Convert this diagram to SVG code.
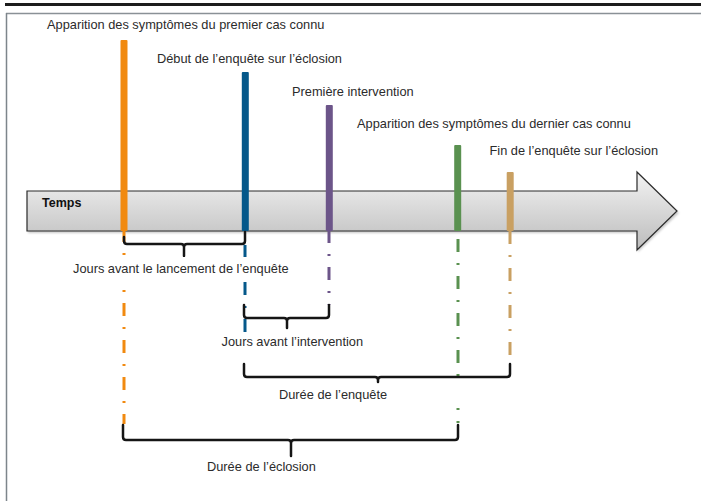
<svg xmlns="http://www.w3.org/2000/svg" width="701" height="501" viewBox="0 0 701 501">
  <defs>
    <linearGradient id="axisGrad" gradientUnits="userSpaceOnUse" x1="0" y1="172" x2="0" y2="250">
      <stop offset="0" stop-color="#f3f3f3"/>
      <stop offset="1" stop-color="#bcbcbc"/>
    </linearGradient>
    <filter id="shadow" x="-5%" y="-20%" width="110%" height="150%">
      <feGaussianBlur stdDeviation="1.2"/>
    </filter>
  </defs>
  <style>
    text { font-family: "Liberation Sans", Arial, sans-serif; font-size: 12.8px; fill: #2b2b2b; }
    .bold { font-weight: bold; fill: #111; font-size: 12.5px; }
    .dd { fill: none; stroke-width: 3; stroke-dasharray: 13 11 2 11; }
    .brace { fill: none; stroke: #151515; stroke-width: 2.5; stroke-linejoin: round; stroke-linecap: round; }
    .orange { fill: #f18a10; stroke: #f18a10; }
    .blue { fill: #05588a; stroke: #05588a; }
    .purple { fill: #6c5589; stroke: #6c5589; }
    .green { fill: #5a9150; stroke: #5a9150; }
    .tan { fill: #c9a062; stroke: #c9a062; }
    .bar { stroke: none; }
  </style>

  <rect x="0" y="0" width="701" height="501" fill="#ffffff"/>

  <!-- frame -->
  <g id="frame">
    <line x1="5" y1="4.5" x2="701" y2="4.5" stroke="#1c1c1c" stroke-width="3"/>
    <line x1="6" y1="13.5" x2="701" y2="13.5" stroke="#8a9196" stroke-width="1.5"/>
    <line x1="6.5" y1="13" x2="6.5" y2="501" stroke="#7d858b" stroke-width="1.5"/>
  </g>

  <!-- time axis -->
  <g id="axis">
    <polygon points="28,193 638,193 638,174 679,213 638,252 638,233 28,233" fill="#888" opacity="0.45" filter="url(#shadow)"/>
    <polygon points="27,191 637,191 637,172 677,211 637,250 637,231 27,231" fill="url(#axisGrad)" stroke="#2a2a2a" stroke-width="1.2"/>
    <text class="bold" x="42" y="207">Temps</text>
  </g>

  <!-- dash-dot guide lines -->
  <g id="guides">
    <path class="dd orange" d="M124,229 V424"/>
    <path class="dd blue" d="M245,245 V332"/>
    <path class="dd purple" d="M329,230 V305"/>
    <path class="dd green" d="M458,239 V377"/>
    <path class="green" stroke-width="3" d="M458,408 V410 M458,421 V423"/>
    <path class="dd tan" d="M510,231 V364"/>
  </g>

  <!-- events -->
  <g id="event-premier-cas">
    <rect class="bar orange" x="120.5" y="40" width="7" height="191" rx="1"/>
    <text x="47" y="29">Apparition des symptômes du premier cas connu</text>
  </g>
  <g id="event-debut-enquete">
    <rect class="bar blue" x="241.8" y="72" width="7" height="159" rx="1"/>
    <text x="157" y="62.5">Début de l’enquête sur l’éclosion</text>
  </g>
  <g id="event-premiere-intervention">
    <rect class="bar purple" x="325.8" y="105" width="7" height="126" rx="1"/>
    <text x="292" y="95.5">Première intervention</text>
  </g>
  <g id="event-dernier-cas">
    <rect class="bar green" x="454.2" y="145" width="7" height="86" rx="1"/>
    <text x="357" y="128">Apparition des symptômes du dernier cas connu</text>
  </g>
  <g id="event-fin-enquete">
    <rect class="bar tan" x="506.7" y="172" width="7" height="59" rx="1"/>
    <text x="489.5" y="154.5">Fin de l’enquête sur l’éclosion</text>
  </g>

  <!-- braces -->
  <g id="connectors">
    <path class="brace" d="M124,237 V241 Q124,244 127,244 H181 Q184,244 184,247 V256 M184,247 Q184,244 187,244 H242 Q245,244 245,241 V232"/>
    <path class="brace" d="M244,305 V315 Q244,318 247,318 H284 Q287,318 287,321 V328 M287,321 Q287,318 290,318 H326 Q329,318 329,315 V305"/>
    <path class="brace" d="M244,364 V374 Q244,377 247,377 H375 Q378,377 378,380 V382 M378,380 Q378,377 381,377 H507 Q510,377 510,374 V364"/>
    <path class="brace" d="M123,425 V437 Q123,440 126,440 H288 Q291,440 291,443 V456 M291,443 Q291,440 294,440 H455 Q458,440 458,437 V425"/>
  </g>

  <!-- interval labels -->
  <g id="label-jours-lancement">
    <rect x="68" y="257" width="228" height="24" fill="#ffffff"/>
    <text x="73" y="273">Jours avant le lancement de l’enquête</text>
  </g>
  <g id="label-jours-intervention">
    <text x="221.5" y="346">Jours avant l’intervention</text>
  </g>
  <g id="label-duree-enquete">
    <text x="279" y="399">Durée de l’enquête</text>
  </g>
  <g id="label-duree-eclosion">
    <text x="207" y="471">Durée de l’éclosion</text>
  </g>
</svg>
